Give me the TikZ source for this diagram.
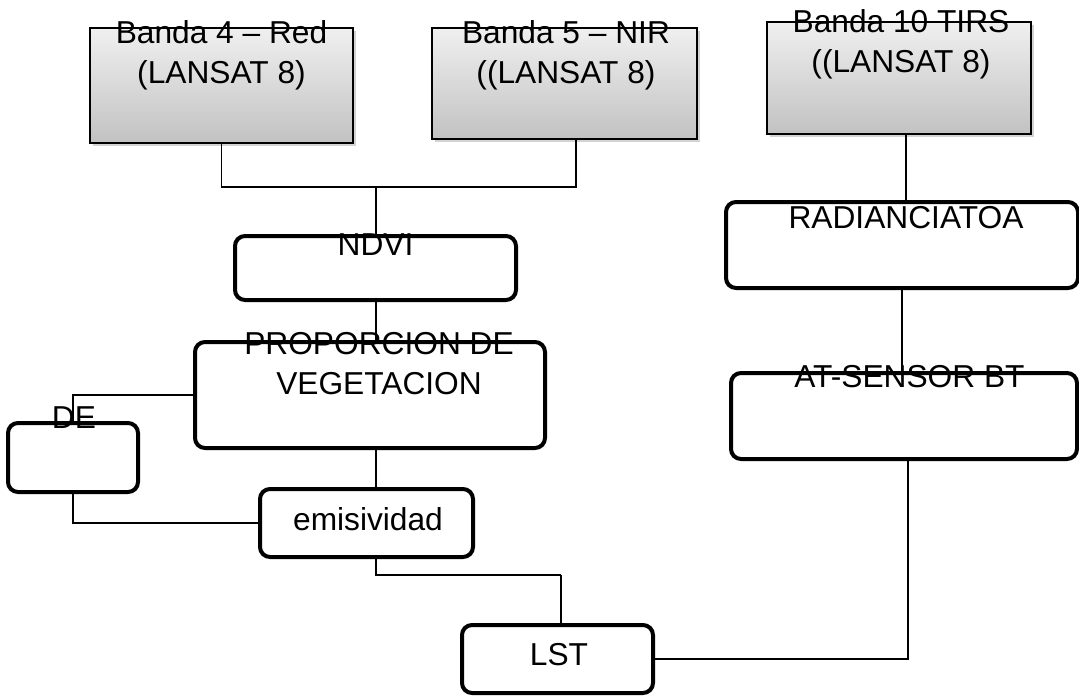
\documentclass[tikz,border=0pt]{standalone}
\usepackage{fontspec}
\setmainfont{Liberation Sans}
\usetikzlibrary{shadows}
\begin{document}
\begin{tikzpicture}[x=1pt,y=-1pt,
  bandbox/.style={draw=black, line width=2pt, inner sep=0pt, outer sep=0pt,
    top color=gray!12, bottom color=gray!48,
    drop shadow={shadow xshift=3pt, shadow yshift=-3pt, opacity=0.35, fill=gray}},
  procbox/.style={draw=black, line width=4pt, rounded corners=10pt, fill=white,
    inner sep=0pt, outer sep=0pt},
  lbl/.style={font=\fontsize{31.7}{40}\selectfont, inner sep=0pt, anchor=base, align=center},
  conn/.style={draw=black, line width=1.3pt}]
\useasboundingbox (0,0) rectangle (1079,696);
% boxes
\node[bandbox, minimum width=263pt, minimum height=115pt] (b4) at (221.5,85.5) {};
\node[bandbox, minimum width=265pt, minimum height=111pt] (b5) at (564.5,83.5) {};
\node[bandbox, minimum width=264pt, minimum height=112pt] (b10) at (899,78) {};
\node[procbox, minimum width=281pt, minimum height=64pt] (ndvi) at (375.5,268) {};
\node[procbox, minimum width=350pt, minimum height=106pt] (prop) at (370,395) {};
\node[procbox, minimum width=130pt, minimum height=69pt] (de) at (73,457.5) {};
\node[procbox, minimum width=213pt, minimum height=68pt] (emis) at (366.5,523) {};
\node[procbox, minimum width=191pt, minimum height=68pt] (lst) at (557.5,659) {};
\node[procbox, minimum width=352pt, minimum height=86pt] (rad) at (902,245) {};
\node[procbox, minimum width=346pt, minimum height=86pt] (ats) at (904,416) {};
% helper coordinates
\coordinate (c5) at (576,0);
\coordinate (cx) at (376,0);
\coordinate (j1) at (376,187);
\coordinate (j2) at (561,575);
\coordinate (cr) at (908,0);
\coordinate (c10) at (906,0);
% connectors
\draw[conn] (b4.south) |- (j1);
\draw[conn] (j1) -| (b5.south -| c5);
\draw[conn] (j1) -- (ndvi.north -| cx);
\draw[conn] (ndvi.south -| cx) -- (prop.north -| cx);
\draw[conn] (prop.south -| cx) -- (emis.north -| cx);
\draw[conn] (prop.west) -| (de.north);
\draw[conn] (de.south) |- (emis.west);
\draw[conn] (emis.south -| cx) |- (j2);
\draw[conn] (j2) -- (j2 |- lst.north);
\draw[conn] (lst.east) -| (ats.south -| cr);
\draw[conn] (b10.south -| c10) -- (rad.north -| c10);
\draw[conn] (rad.south) -- (rad.south |- ats.north);
% labels (base anchor = baseline of last line)
\node[lbl] (t4) at (221.5,83) {Banda 4 -- Red\\(LANSAT 8)};
\node[lbl] (t5) at (566,83) {Banda 5 -- NIR\\((LANSAT 8)};
\node[lbl] (t10) at (901,72) {Banda 10 TIRS\\((LANSAT 8)};
\node[lbl] (tndvi) at (375.5,255) {NDVI};
\node[lbl] (tprop) at (379,394) {PROPORCION DE\\VEGETACION};
\node[lbl] (tde) at (74,428) {DE};
\node[lbl] (temis) at (368,530) {emisividad};
\node[lbl] (tlst) at (559,665) {LST};
\node[lbl] (trad) at (906,228) {RADIANCIATOA};
\node[lbl] (tats) at (909.5,387) {AT-SENSOR BT};
\end{tikzpicture}
\end{document}
